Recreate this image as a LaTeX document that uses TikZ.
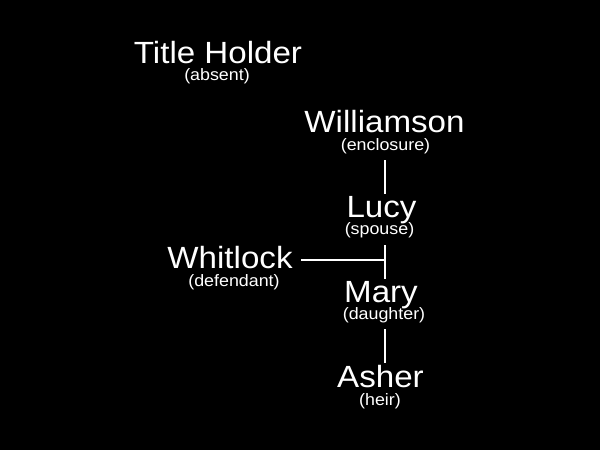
\documentclass[tikz,border=0pt]{standalone}
\usepackage{fontspec}
\setmainfont{Liberation Sans}[FakeStretch=1.08]
\usetikzlibrary{calc}
\begin{document}
\begin{tikzpicture}[x=0.75pt,y=-0.75pt,
  namebox/.style={text=white,inner sep=0pt,anchor=base,font=\fontsize{23pt}{26pt}\selectfont},
  rolebox/.style={text=white,inner sep=0pt,anchor=base,font=\fontsize{12.4pt}{14pt}\selectfont},
  link/.style={draw=white,line width=1.5pt}]
\fill[black] (0,0) rectangle (600,450);
\useasboundingbox (0,0) rectangle (600,450);
\coordinate (spine) at (384.5,0);
% people
\node[namebox] (title) at (218,63.5) {Title Holder};
\node[rolebox] (absent) at (217,80) {(absent)};
\node[namebox] (will) at (384.5,132.5) {Williamson};
\node[rolebox] (enc) at (385.5,150) {(enclosure)};
\node[namebox] (lucy) at (381.5,217.5) {Lucy};
\node[rolebox] (spouse) at (379.5,234) {(spouse)};
\node[namebox] (whit) at (230,268.5) {Whitlock};
\node[rolebox] (def) at (234,286) {(defendant)};
\node[namebox] (mary) at (381,302.5) {Mary};
\node[rolebox] (dau) at (384,319) {(daughter)};
\node[namebox] (asher) at (380.5,387.5) {Asher};
\node[rolebox] (heir) at (380,405) {(heir)};
\coordinate (junc) at (384.5,260);
% connectors
\draw[link] ($(enc.south -| spine)+(0,6.6)$) -- ($(lucy.north -| spine)+(0,-2.5)$);
\draw[link] ($(spouse.south -| spine)+(0,7.6)$) -- ($(mary.north -| spine)+(0,-2.5)$);
\draw[link] ($(whit.east |- junc)+(8,0)$) -- (junc);
\draw[link] ($(dau.south -| spine)+(0,6.6)$) -- ($(asher.north -| spine)+(0,-2.5)$);
\end{tikzpicture}
\end{document}
